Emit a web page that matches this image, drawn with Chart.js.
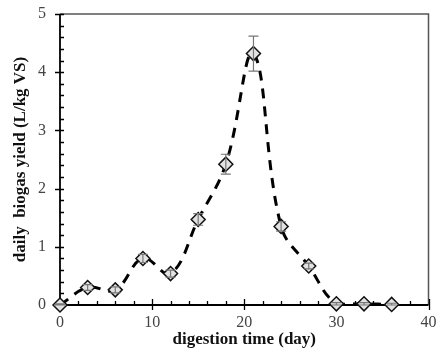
<!DOCTYPE html>
<html lang="en">
  <head>
    <meta charset="UTF-8" />
    <title>Daily biogas yield</title>
    <script src="https://cdn.jsdelivr.net/npm/chart.js"></script>
    <style>
      html, body { margin: 0; padding: 0; background: #fff; }
      #wrap { width: 437px; height: 349px; }
    </style>
  </head>
  <body>
    <div id="wrap"><canvas id="biogasChart" width="437" height="349"></canvas></div>

    <script>
        // digestion time (day) and daily biogas yield (L/kg VS)
        const days = [0, 3, 6, 9, 12, 15, 18, 21, 24, 27, 30, 33, 36];
        const yields = [0.0, 0.30, 0.26, 0.80, 0.54, 1.47, 2.42, 4.32, 1.35, 0.67, 0.02, 0.02, 0.01];
        const errors = [0.02, 0.05, 0.05, 0.07, 0.06, 0.10, 0.17, 0.30, 0.08, 0.05, 0.02, 0.02, 0.02];

        const xTicks = [0, 10, 20, 30, 40];
        const yTicks = [0, 1, 2, 3, 4, 5];

        const serif = "'Liberation Serif', 'Times New Roman', serif";

        // frame, major/minor tick marks and error bars
        const framePlugin = {
            id: 'frame',
            afterDatasetsDraw(chart) {
                const ctx = chart.ctx;
                const xs = chart.scales.x, ys = chart.scales.y;

                // error bars
                ctx.save();
                ctx.strokeStyle = '#777';
                ctx.lineWidth = 1.2;
                days.forEach((d, i) => {
                    const px = xs.getPixelForValue(d);
                    const top = ys.getPixelForValue(yields[i] + errors[i]);
                    const bot = ys.getPixelForValue(Math.max(0, yields[i] - errors[i]));
                    ctx.beginPath();
                    ctx.moveTo(px, top); ctx.lineTo(px, bot);
                    ctx.moveTo(px - 5, top); ctx.lineTo(px + 5, top);
                    ctx.moveTo(px - 5, bot); ctx.lineTo(px + 5, bot);
                    ctx.stroke();
                });
                ctx.restore();
            },
            beforeDatasetsDraw(chart) {
                const ctx = chart.ctx;
                const a = chart.chartArea;
                const xs = chart.scales.x, ys = chart.scales.y;
                ctx.save();
                // top and right border
                ctx.strokeStyle = '#555';
                ctx.lineWidth = 1.5;
                ctx.beginPath();
                ctx.moveTo(a.left, a.top); ctx.lineTo(a.right, a.top); ctx.lineTo(a.right, a.bottom);
                ctx.stroke();
                // axes
                ctx.strokeStyle = '#000';
                ctx.lineWidth = 1.8;
                ctx.beginPath();
                ctx.moveTo(a.left, a.top); ctx.lineTo(a.left, a.bottom); ctx.lineTo(a.right, a.bottom);
                ctx.stroke();
                // tick marks
                ctx.lineWidth = 1.3;
                ctx.beginPath();
                for (let v = 0; v <= 5.001; v += 0.2) {
                    const py = Math.round(ys.getPixelForValue(v)) + 0.5;
                    const major = Math.abs(v - Math.round(v)) < 0.01;
                    ctx.moveTo(a.left - (major ? 5 : 0), py);
                    ctx.lineTo(a.left + 4, py);
                }
                for (let v = 0; v <= 40; v += 2) {
                    const px = Math.round(xs.getPixelForValue(v)) + 0.5;
                    const major = v % 10 === 0;
                    ctx.moveTo(px, a.bottom + (major ? 5 : 0));
                    ctx.lineTo(px, a.bottom - (major ? 6 : 4));
                }
                ctx.stroke();
                ctx.restore();
            }
        };

        const points = days.map((d, i) => ({ x: d, y: yields[i] }));

        new Chart(document.getElementById('biogasChart'), {
            type: 'line',
            data: {
                datasets: [{
                    data: points,
                    borderColor: '#000',
                    borderWidth: 3,
                    borderDash: [10, 8],
                    tension: 0.4,
                    pointStyle: 'rectRot',
                    pointRadius: 7,
                    pointBackgroundColor: '#e2e2e2',
                    pointBorderColor: '#111',
                    pointBorderWidth: 1.5,
                    clip: false
                }]
            },
            options: {
                responsive: false,
                animation: false,
                layout: { padding: { top: 14, right: 8, left: 0, bottom: 0 } },
                plugins: {
                    legend: { display: false },
                    tooltip: { enabled: false }
                },
                scales: {
                    x: {
                        type: 'linear',
                        min: 0,
                        max: 40,
                        afterBuildTicks: s => { s.ticks = xTicks.map(v => ({ value: v })); },
                        afterFit: s => { s.height = 44; s.paddingLeft = 0; s.paddingRight = 0; },
                        grid: { display: false, drawTicks: false },
                        border: { display: false },
                        ticks: {
                            padding: 8,
                            maxRotation: 0,
                            color: '#444',
                            font: { family: serif, size: 16 }
                        },
                        title: {
                            display: true,
                            text: 'digestion time (day)',
                            color: '#111',
                            padding: { top: 0, bottom: 1 },
                            font: { family: serif, size: 17, weight: 'bold', lineHeight: 1 }
                        }
                    },
                    y: {
                        min: 0,
                        max: 5,
                        afterBuildTicks: s => { s.ticks = yTicks.map(v => ({ value: v })); },
                        afterFit: s => { s.width = 60; s.paddingTop = 0; s.paddingBottom = 0; },
                        grid: { display: false, drawTicks: false },
                        border: { display: false },
                        ticks: {
                            padding: 14,
                            color: '#444',
                            font: { family: serif, size: 16 }
                        },
                        title: {
                            display: true,
                            text: 'daily  biogas yield (L/kg VS)',
                            color: '#111',
                            padding: { top: 12, bottom: 0 },
                            font: { family: serif, size: 17, weight: 'bold', lineHeight: 1 }
                        }
                    }
                }
            },
            plugins: [framePlugin]
        });
    </script>
  </body>
</html>
